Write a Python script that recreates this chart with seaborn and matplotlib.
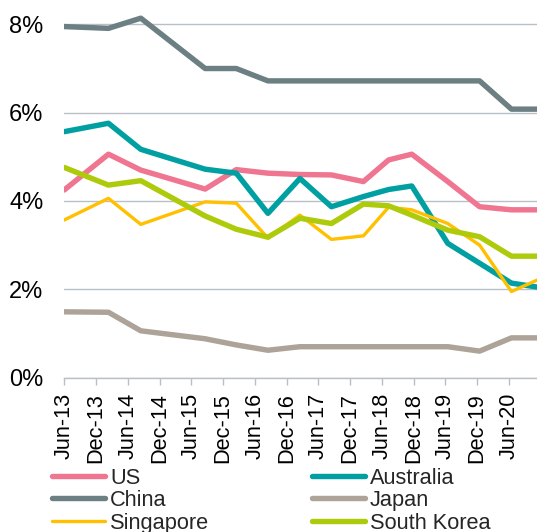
import pandas as pd
import matplotlib.pyplot as plt
import matplotlib.dates as mdates
import seaborn as sns

sns.set_style('white')
plt.rcParams['font.family'] = ['Liberation Sans', 'DejaVu Sans']

# observation dates (last one sits just past the cropped right edge)
dates = pd.to_datetime(['2013-06-01', '2014-02-10', '2014-08-15', '2015-08-20', '2016-02-15',
                        '2016-08-15', '2017-02-15', '2017-08-15', '2018-02-15', '2018-07-10',
                        '2018-11-20', '2019-06-15', '2019-12-15', '2020-06-15', '2020-12-15'])

us = [4.25, 5.06, 4.70, 4.27, 4.71, 4.63, 4.60, 4.59, 4.44, 4.93, 5.06, 4.44, 3.87, 3.80, 3.80]
australia = [5.57, 5.76, 5.17, 4.72, 4.63, 3.72, 4.51, 3.87, 4.10, 4.26, 4.34, 3.04, 2.59, 2.14, 2.03]
china = [7.95, 7.91, 8.14, 7.00, 7.00, 6.72, 6.72, 6.72, 6.72, 6.72, 6.72, 6.72, 6.72, 6.08, 6.08]
japan = [1.49, 1.48, 1.06, 0.88, 0.74, 0.62, 0.70, 0.70, 0.70, 0.70, 0.70, 0.70, 0.60, 0.90, 0.90]
singapore = [3.57, 4.06, 3.47, 3.98, 3.95, 3.16, 3.68, 3.13, 3.21, 3.86, 3.80, 3.49, 3.00, 1.95, 2.27]
south_korea = [4.76, 4.36, 4.46, 3.66, 3.36, 3.18, 3.61, 3.49, 3.93, 3.89, 3.68, 3.34, 3.19, 2.75, 2.75]

countries = ['US', 'Australia', 'China', 'Japan', 'Singapore', 'South Korea']
colors = {'US': '#F07590', 'Australia': '#00A0A2', 'China': '#6C7F83',
          'Japan': '#ADA398', 'Singapore': '#FFC000', 'South Korea': '#AECB0B'}
widths = {'US': 3.9, 'Australia': 3.9, 'China': 3.9, 'Japan': 3.9,
          'Singapore': 2.4, 'South Korea': 3.9}

df = pd.DataFrame({'date': dates, 'US': us, 'Australia': australia, 'China': china,
                   'Japan': japan, 'Singapore': singapore, 'South Korea': south_korea})
df = df.melt(id_vars='date', var_name='country', value_name='rate')

fig = plt.figure(figsize=(5.37, 5.32), dpi=100)
ax = fig.add_axes([0.1197, 0.2902, 0.8803, 0.7055])

handles = {}
for c in countries:
    sns.lineplot(data=df[df['country'] == c], x='date', y='rate', color=colors[c],
                 linewidth=widths[c], ax=ax, legend=False, label=c,
                 solid_capstyle='round', solid_joinstyle='round')
    handles[c] = ax.get_lines()[-1]

ax.set_xlim(pd.Timestamp('2013-06-01'), pd.Timestamp('2020-11-09'))
ax.set_ylim(0, 8.5)
ax.set_yticks([0, 2, 4, 6, 8])
ax.yaxis.set_major_formatter(lambda v, p: f'{v:.0f}%')
ax.xaxis.set_major_locator(mdates.MonthLocator(bymonth=[6, 12]))
ax.xaxis.set_major_formatter(mdates.DateFormatter('%b-%y'))
ax.set_xlabel('')
ax.set_ylabel('')

grid_col = '#B9C0C5'
ax.grid(axis='y', color=grid_col, linewidth=1.0)
ax.grid(axis='x', visible=False)
ax.set_axisbelow(True)
for s in ['top', 'right', 'left']:
    ax.spines[s].set_visible(False)
ax.spines['bottom'].set_color(grid_col)
ax.spines['bottom'].set_linewidth(1.0)

ax.tick_params(axis='y', length=0, pad=15, labelsize=17, labelcolor='black')
ax.tick_params(axis='x', length=5, width=1, color=grid_col, pad=6, labelsize=15.7,
               labelrotation=90, labelcolor='black', bottom=True)

order = ['US', 'China', 'Singapore', 'Australia', 'Japan', 'South Korea']
fig.legend([handles[c] for c in order], order, ncol=2, loc='upper left',
           bbox_to_anchor=(52 / 537, (532 - 467.5) / 532), frameon=False, fontsize=15.7,
           handlelength=2.45, handletextpad=0.22, columnspacing=4.7, labelspacing=0.07,
           borderpad=0, borderaxespad=0)

fig.savefig('out.png', dpi=100)
